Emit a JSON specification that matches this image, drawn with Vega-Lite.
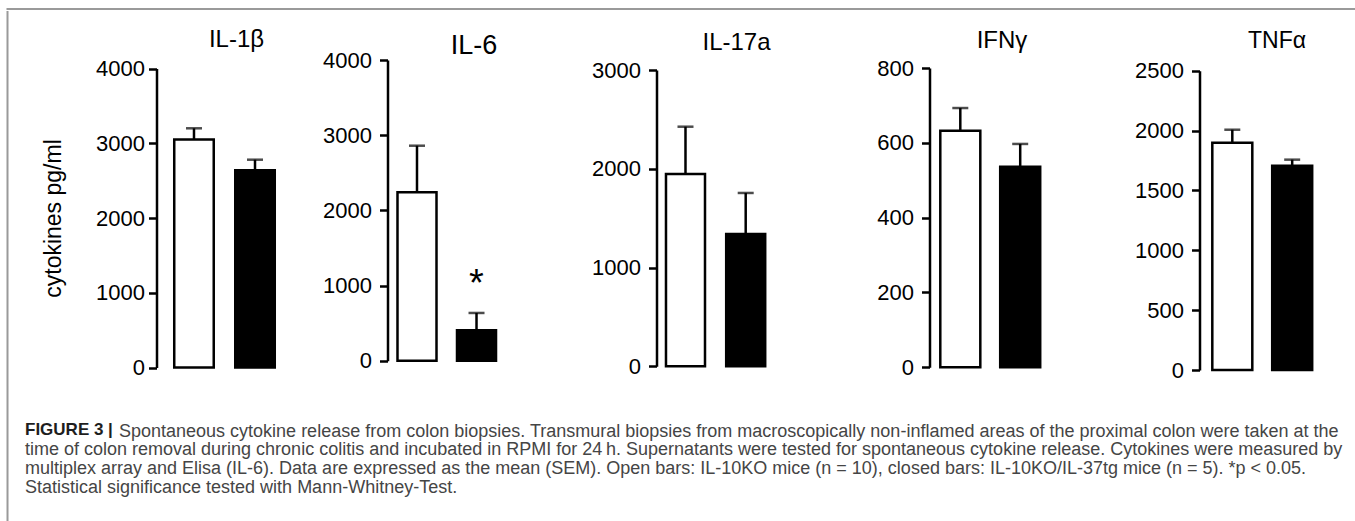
{
  "$schema": "https://vega.github.io/schema/vega-lite/v6.json",
  "background": "white",
  "padding": {"left": 6.5, "top": 8, "right": 0, "bottom": 0},
  "spacing": 0,
  "config": {
    "view": {"stroke": null},
    "font": "Liberation Sans",
    "axis": {
      "domainColor": "black", "domainWidth": 2.5, "tickColor": "black", "tickWidth": 2.5, "tickSize": 8,
      "labelFont": "Liberation Sans", "labelFontSize": 22, "labelColor": "black", "labelPadding": 8,
      "grid": false, "labelOverlap": false, "format": "d",
      "titleFont": "Liberation Sans", "titleFontSize": 23, "titleFontWeight": "normal", "titleColor": "black"
    },
    "title": {"font": "Liberation Sans", "fontWeight": "normal", "color": "black", "frame": "group", "anchor": "middle", "baseline": "alphabetic"}
  },
  "datasets": {
    "cyto": [
      {"cytokine": "IL-1β", "group": "open", "mean": 3050, "upper": 3200, "sig": ""},
      {"cytokine": "IL-1β", "group": "closed", "mean": 2640, "upper": 2780, "sig": ""},
      {"cytokine": "IL-6", "group": "open", "mean": 2240, "upper": 2860, "sig": ""},
      {"cytokine": "IL-6", "group": "closed", "mean": 405, "upper": 635, "sig": "*"},
      {"cytokine": "IL-17a", "group": "open", "mean": 1947, "upper": 2426, "sig": ""},
      {"cytokine": "IL-17a", "group": "closed", "mean": 1339, "upper": 1755, "sig": ""},
      {"cytokine": "IFNγ", "group": "open", "mean": 632, "upper": 693, "sig": ""},
      {"cytokine": "IFNγ", "group": "closed", "mean": 536, "upper": 597, "sig": ""},
      {"cytokine": "TNFα", "group": "open", "mean": 1899, "upper": 2007, "sig": ""},
      {"cytokine": "TNFα", "group": "closed", "mean": 1707, "upper": 1757, "sig": ""}
    ]
  },
  "vconcat": [
    {
      "width": 1350, "height": 0.01,
      "view": {"stroke": "#9a9a9a", "strokeWidth": 2},
      "data": {"values": [{}]},
      "mark": {"type": "text", "text": "", "fontSize": 0}
    },
    {
      "hconcat": [
        {"width": 0.01, "height": 373, "view": {"stroke": "#9a9a9a", "strokeWidth": 2}, "data": {"values": [{}]}, "mark": {"type": "text", "text": "", "fontSize": 0}},
        {"width": 147.5, "height": 373, "data": {"values": [{}]}, "mark": {"type": "text", "text": "", "fontSize": 0}},
        {
          "width": 132, "height": 373,
          "title": {"text": "IL-1β", "fontSize": 24, "offset": -39.7, "dx": 14},
          "data": {"name": "cyto"},
          "transform": [{"filter": "datum.cytokine === 'IL-1β'"}],
          "encoding": {
            "x": {"field": "group", "type": "nominal", "sort": ["open", "closed"], "axis": null,
                  "scale": {"paddingInner": 0.3525, "paddingOuter": 0.258, "align": 0.5635}}
          },
          "layer": [
            {"mark": {"type": "bar", "stroke": "black", "strokeWidth": 2.5},
             "encoding": {
               "y": {"field": "mean", "type": "quantitative", "title": "cytokines pg/ml",
                     "scale": {"domain": [0, 4000], "range": [355.5, 56.5], "nice": false},
                     "axis": {"values": [0, 1000, 2000, 3000, 4000], "labelPadding": 4, "titlePadding": 30}},
               "color": {"field": "group", "type": "nominal", "scale": {"domain": ["open", "closed"], "range": ["white", "black"]}, "legend": null}
             }},
            {"mark": {"type": "rule", "strokeWidth": 2.5, "color": "black"},
             "encoding": {"y": {"field": "mean", "type": "quantitative", "title": "cytokines pg/ml"}, "y2": {"field": "upper", "title": "cytokines pg/ml"}}},
            {"mark": {"type": "tick", "thickness": 2.5, "size": 16, "color": "black", "orient": "horizontal"},
             "encoding": {"y": {"field": "upper", "type": "quantitative", "title": "cytokines pg/ml"}}},
            {"mark": {"type": "rule", "strokeWidth": 2.5, "color": "black"}, "encoding": {"y": {"datum": 0}}}
          ]
        },
        {"width": 99, "height": 373, "data": {"values": [{}]}, "mark": {"type": "text", "text": "", "fontSize": 0}},
        {
          "width": 119, "height": 373,
          "title": {"text": "IL-6", "fontSize": 27, "offset": -47.6, "dx": 27},
          "data": {"name": "cyto"},
          "transform": [{"filter": "datum.cytokine === 'IL-6'"}],
          "encoding": {
            "x": {"field": "group", "type": "nominal", "sort": ["open", "closed"], "axis": null,
                  "scale": {"paddingInner": 0.3445, "paddingOuter": 0.172, "align": 0.488}}
          },
          "layer": [
            {"mark": {"type": "bar", "stroke": "black", "strokeWidth": 2.5},
             "encoding": {
               "y": {"field": "mean", "type": "quantitative", "title": null,
                     "scale": {"domain": [0, 4000], "range": [348.7, 48], "nice": false},
                     "axis": {"values": [0, 1000, 2000, 3000, 4000]}},
               "color": {"field": "group", "type": "nominal", "scale": {"domain": ["open", "closed"], "range": ["white", "black"]}, "legend": null}
             }},
            {"mark": {"type": "rule", "strokeWidth": 2.5, "color": "black"},
             "encoding": {"y": {"field": "mean", "type": "quantitative", "title": null}, "y2": {"field": "upper", "title": null}}},
            {"mark": {"type": "tick", "thickness": 2.5, "size": 16, "color": "black", "orient": "horizontal"},
             "encoding": {"y": {"field": "upper", "type": "quantitative", "title": null}}},
            {"transform": [{"filter": "datum.sig !== ''"}],
             "mark": {"type": "text", "fontSize": 38, "font": "Liberation Sans", "baseline": "alphabetic", "dy": -17, "color": "black"},
             "encoding": {"y": {"field": "upper", "type": "quantitative", "title": null}, "text": {"field": "sig"}}},
            {"mark": {"type": "rule", "strokeWidth": 2.5, "color": "black"}, "encoding": {"y": {"datum": 0}}}
          ]
        },
        {"width": 150, "height": 373, "data": {"values": [{}]}, "mark": {"type": "text", "text": "", "fontSize": 0}},
        {
          "width": 118, "height": 373,
          "title": {"text": "IL-17a", "fontSize": 24, "offset": -42.7, "dx": 21},
          "data": {"name": "cyto"},
          "transform": [{"filter": "datum.cytokine === 'IL-17a'"}],
          "encoding": {
            "x": {"field": "group", "type": "nominal", "sort": ["open", "closed"], "axis": null,
                  "scale": {"paddingInner": 0.352, "paddingOuter": 0.156, "align": 0.505}}
          },
          "layer": [
            {"mark": {"type": "bar", "stroke": "black", "strokeWidth": 2.5},
             "encoding": {
               "y": {"field": "mean", "type": "quantitative", "title": null,
                     "scale": {"domain": [0, 3000], "range": [354.3, 58], "nice": false},
                     "axis": {"values": [0, 1000, 2000, 3000]}},
               "color": {"field": "group", "type": "nominal", "scale": {"domain": ["open", "closed"], "range": ["white", "black"]}, "legend": null}
             }},
            {"mark": {"type": "rule", "strokeWidth": 2.5, "color": "black"},
             "encoding": {"y": {"field": "mean", "type": "quantitative", "title": null}, "y2": {"field": "upper", "title": null}}},
            {"mark": {"type": "tick", "thickness": 2.5, "size": 16, "color": "black", "orient": "horizontal"},
             "encoding": {"y": {"field": "upper", "type": "quantitative", "title": null}}},
            {"mark": {"type": "rule", "strokeWidth": 2.5, "color": "black"}, "encoding": {"y": {"datum": 0}}}
          ]
        },
        {"width": 155, "height": 373, "data": {"values": [{}]}, "mark": {"type": "text", "text": "", "fontSize": 0}},
        {
          "width": 121, "height": 373,
          "title": {"text": "IFNγ", "fontSize": 24, "offset": -40.7, "dx": 12},
          "data": {"name": "cyto"},
          "transform": [{"filter": "datum.cytokine === 'IFNγ'"}],
          "encoding": {
            "x": {"field": "group", "type": "nominal", "sort": ["open", "closed"], "axis": null,
                  "scale": {"paddingInner": 0.332, "paddingOuter": 0.176, "align": 0.512}}
          },
          "layer": [
            {"mark": {"type": "bar", "stroke": "black", "strokeWidth": 2.5},
             "encoding": {
               "y": {"field": "mean", "type": "quantitative", "title": null,
                     "scale": {"domain": [0, 800], "range": [355.3, 56], "nice": false},
                     "axis": {"values": [0, 200, 400, 600, 800]}},
               "color": {"field": "group", "type": "nominal", "scale": {"domain": ["open", "closed"], "range": ["white", "black"]}, "legend": null}
             }},
            {"mark": {"type": "rule", "strokeWidth": 2.5, "color": "black"},
             "encoding": {"y": {"field": "mean", "type": "quantitative", "title": null}, "y2": {"field": "upper", "title": null}}},
            {"mark": {"type": "tick", "thickness": 2.5, "size": 16, "color": "black", "orient": "horizontal"},
             "encoding": {"y": {"field": "upper", "type": "quantitative", "title": null}}},
            {"mark": {"type": "rule", "strokeWidth": 2.5, "color": "black"}, "encoding": {"y": {"datum": 0}}}
          ]
        },
        {"width": 149, "height": 373, "data": {"values": [{}]}, "mark": {"type": "text", "text": "", "fontSize": 0}},
        {
          "width": 123, "height": 373,
          "title": {"text": "TNFα", "fontSize": 23, "offset": -41.4, "dx": 16},
          "data": {"name": "cyto"},
          "transform": [{"filter": "datum.cytokine === 'TNFα'"}],
          "encoding": {
            "x": {"field": "group", "type": "nominal", "sort": ["open", "closed"], "axis": null,
                  "scale": {"paddingInner": 0.332, "paddingOuter": 0.193, "align": 0.554}}
          },
          "layer": [
            {"mark": {"type": "bar", "stroke": "black", "strokeWidth": 2.5},
             "encoding": {
               "y": {"field": "mean", "type": "quantitative", "title": null,
                     "scale": {"domain": [0, 2500], "range": [358, 58.7], "nice": false},
                     "axis": {"values": [0, 500, 1000, 1500, 2000, 2500]}},
               "color": {"field": "group", "type": "nominal", "scale": {"domain": ["open", "closed"], "range": ["white", "black"]}, "legend": null}
             }},
            {"mark": {"type": "rule", "strokeWidth": 2.5, "color": "black"},
             "encoding": {"y": {"field": "mean", "type": "quantitative", "title": null}, "y2": {"field": "upper", "title": null}}},
            {"mark": {"type": "tick", "thickness": 2.5, "size": 16, "color": "black", "orient": "horizontal"},
             "encoding": {"y": {"field": "upper", "type": "quantitative", "title": null}}},
            {"mark": {"type": "rule", "strokeWidth": 2.5, "color": "black"}, "encoding": {"y": {"datum": 0}}}
          ]
        }
      ],
      "spacing": 0,
      "bounds": "flush"
    },
    {
      "hconcat": [
        {
          "width": 0.01, "height": 137,
          "view": {"stroke": "#9a9a9a", "strokeWidth": 2},
          "title": {
            "text": "Spontaneous cytokine release from colon biopsies. Transmural biopsies from macroscopically non-inflamed areas of the proximal colon were taken at the",
            "anchor": "start", "frame": "group", "orient": "top", "baseline": "top",
            "offset": -54, "dx": 111.5,
            "font": "Liberation Sans", "fontSize": 18, "fontWeight": "normal", "color": "#454545"
          },
          "data": {"values": [{}]},
          "mark": {"type": "text", "text": "", "fontSize": 0}
        },
        {
          "width": 1345, "height": 137,
          "title": {
            "text": "FIGURE 3 |",
            "subtitle": [
              "time of colon removal during chronic colitis and incubated in RPMI for 24\u2009h. Supernatants were tested for spontaneous cytokine release. Cytokines were measured by",
              "multiplex array and Elisa (IL-6). Data are expressed as the mean (SEM). Open bars: IL-10KO mice (n = 10), closed bars: IL-10KO/IL-37tg mice (n = 5). *p < 0.05.",
              "Statistical significance tested with Mann-Whitney-Test."
            ],
            "anchor": "start", "frame": "group", "orient": "top", "baseline": "top",
            "offset": -111, "dx": 16.5,
            "font": "Liberation Sans", "fontSize": 17, "fontWeight": "bold", "color": "#1e1e1e",
            "subtitleFont": "Liberation Sans", "subtitleFontSize": 18, "subtitleFontWeight": "normal",
            "subtitleColor": "#454545", "subtitleLineHeight": 19, "subtitlePadding": 2
          },
          "data": {"values": [{}]},
          "mark": {"type": "text", "text": "", "fontSize": 0}
        }
      ],
      "spacing": 0,
      "bounds": "flush"
    }
  ]
}
